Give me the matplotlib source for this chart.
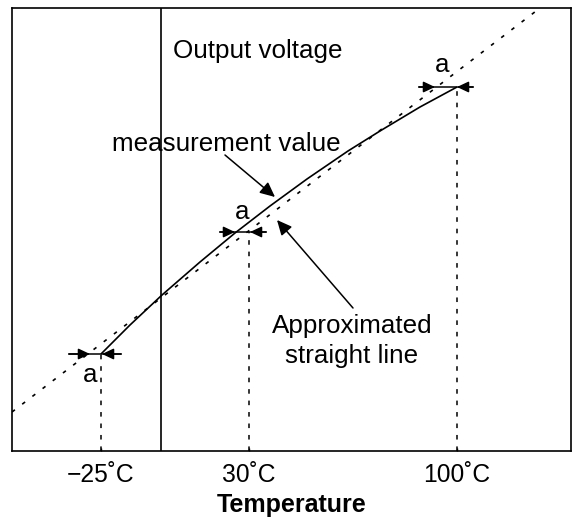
import matplotlib
matplotlib.use("Agg")
import matplotlib.pyplot as plt

plt.rcParams['font.family'] = ['Liberation Sans', 'DejaVu Sans']

# Schematic units (arbitrary): x across the box, y up the box
x_lim = (0, 559)
y_lim = (0, 443)

# Tick positions and labels
tick_pos = [89, 237, 445]
tick_labels = ["\u221225\u02daC", "30\u02daC", "100\u02daC"]

# Measured output (curve)
meas_x = [89, 118, 150, 188, 223, 258, 295, 336, 368, 408, 445]
meas_y = [97, 126, 156, 189, 218, 245, 272, 300, 320, 344, 364]

# Approximated straight line (end points)
line_x = [0, 528]
line_y = [39, 443]

# Vertical output-voltage axis position
vaxis_x = 149

# Error markers "a": row height, line extent, left tip, right tip
err_y = [97, 219, 364]
err_x0 = [57, 208, 407]
err_x1 = [109, 254, 461]
err_tip_left = [78, 223, 423]
err_tip_right = [90, 238, 445]
err_label_x = [78, 230, 430]
err_label_y = [69, 232, 379]

fig = plt.figure(figsize=(5.74, 5.23), dpi=100)
ax = fig.add_axes([12/574, (523-451)/523, 559/574, 443/523])
ax.set_xlim(*x_lim)
ax.set_ylim(*y_lim)

for s in ax.spines.values():
    s.set_linewidth(1.2)

ax.set_yticks([])
ax.set_xticks(tick_pos, tick_labels, fontsize=17.7)
ax.tick_params(axis='x', direction='in', length=2.5, width=1, pad=9)
ax.set_xlabel("Temperature", fontsize=18, fontweight='bold', labelpad=4)

# vertical axis line
ax.axvline(vaxis_x, color='black', lw=1.2)

# straight line
ax.plot(line_x, line_y, color='black', lw=1.2, linestyle=(0, (2.2, 5.5)))

# measurement curve
ax.plot(meas_x, meas_y, color='black', lw=1.2, solid_capstyle='butt',
        solid_joinstyle='round')

# vertical dashed drop lines
for xp, yp in zip(tick_pos, err_y):
    ax.plot([xp, xp], [0, yp], color='black', lw=1.1, linestyle=(0, (3, 4.5)))

# error arrows
astyle = '-|>,head_length=0.7,head_width=0.33'
for y, x0, x1, tl, tr, lx, ly in zip(err_y, err_x0, err_x1, err_tip_left,
                                     err_tip_right, err_label_x, err_label_y):
    ax.plot([x0, x1], [y, y], color='black', lw=1.1)
    ax.annotate('', xy=(tl, y), xytext=(x0, y),
                arrowprops=dict(arrowstyle=astyle, color='black', lw=1.1,
                                shrinkA=0, shrinkB=0, mutation_scale=10))
    ax.annotate('', xy=(tr, y), xytext=(x1, y),
                arrowprops=dict(arrowstyle=astyle, color='black', lw=1.1,
                                shrinkA=0, shrinkB=0, mutation_scale=10))
    ax.text(lx, ly, 'a', fontsize=18.7, ha='center', va='baseline')

# labels
ax.text(161, 393, "Output voltage", fontsize=18.7, ha='left', va='baseline')
ax.text(100, 300, "measurement value", fontsize=18.7, ha='left', va='baseline')
ax.text(340, 118, "Approximated", fontsize=18.7, ha='center', va='baseline')
ax.text(340, 88, "straight line", fontsize=18.7, ha='center', va='baseline')

pstyle = '-|>,head_length=0.75,head_width=0.35'
ax.annotate('', xy=(263, 254), xytext=(213, 296),
            arrowprops=dict(arrowstyle=pstyle, color='black', lw=1.1,
                            shrinkA=0, shrinkB=0, mutation_scale=12))
ax.annotate('', xy=(265, 231), xytext=(341, 143),
            arrowprops=dict(arrowstyle=pstyle, color='black', lw=1.1,
                            shrinkA=0, shrinkB=0, mutation_scale=12))

fig.savefig("out.png", dpi=100)
